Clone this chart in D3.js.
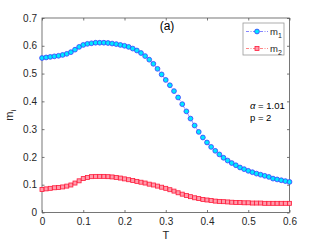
<!DOCTYPE html>
<html>
<head>
<meta charset="utf-8">
<script src="https://cdn.jsdelivr.net/npm/d3@7"></script>
<style>
  body { margin: 0; background: #fff; }
  svg { display: block; font-family: "Liberation Sans", Arial, sans-serif; }
</style>
</head>
<body>
<svg id="chart" width="321" height="241"></svg>
<script>
// temperatures, step 0.01
const temps = d3.range(0, 61).map(i => i / 100);

const m1 = [
  0.556, 0.558, 0.560, 0.562, 0.564, 0.567, 0.571, 0.577, 0.586, 0.596,
  0.603, 0.607, 0.609, 0.611, 0.611, 0.611, 0.610, 0.608, 0.606, 0.603,
  0.600, 0.596, 0.590, 0.583, 0.574, 0.563, 0.550, 0.535, 0.517, 0.497,
  0.477, 0.458, 0.437, 0.414, 0.390, 0.364, 0.338, 0.313, 0.290, 0.270,
  0.252, 0.236, 0.222, 0.209, 0.197, 0.187, 0.178, 0.170, 0.162, 0.156,
  0.150, 0.145, 0.140, 0.136, 0.132, 0.128, 0.122, 0.119, 0.116, 0.113,
  0.110
];

const m2 = [
  0.083, 0.085, 0.087, 0.089, 0.090, 0.092, 0.095, 0.099, 0.106, 0.114,
  0.122, 0.126, 0.129, 0.130, 0.130, 0.130, 0.129, 0.128, 0.126, 0.124,
  0.121, 0.118, 0.115, 0.112, 0.109, 0.106, 0.102, 0.099, 0.095, 0.091,
  0.087, 0.082, 0.077, 0.071, 0.066, 0.061, 0.057, 0.053, 0.050, 0.047,
  0.045, 0.043, 0.041, 0.040, 0.039, 0.038, 0.037, 0.036, 0.036, 0.035,
  0.035, 0.034, 0.034, 0.034, 0.033, 0.033, 0.033, 0.033, 0.033, 0.033,
  0.033
];

const xTicks = [0, 0.1, 0.2, 0.3, 0.4, 0.5, 0.6];
const yTicks = [0, 0.1, 0.2, 0.3, 0.4, 0.5, 0.6, 0.7];
const seriesNames = ["m1", "m2"];

const svg = d3.select("#chart");
const pLeft = 42, pRight = 289.5, pTop = 18, pBottom = 212.5;
const axisColor = "#555";
const textColor = "#262626";

const x = d3.scaleLinear().domain([0, 0.6]).range([pLeft, pRight]);
const y = d3.scaleLinear().domain([0, 0.7]).range([pBottom, pTop]);

// box
svg.append("rect")
  .attr("x", pLeft).attr("y", pTop)
  .attr("width", pRight - pLeft).attr("height", pBottom - pTop)
  .attr("fill", "none").attr("stroke", axisColor).attr("stroke-width", 0.8);

const tl = 2.5;
// axes with inward ticks
svg.append("g").attr("transform", `translate(0,${pBottom})`)
  .call(d3.axisBottom(x).tickValues(xTicks).tickSize(-tl).tickPadding(5)
    .tickFormat(d => d === 0 ? "0" : d3.format(".1f")(d)))
  .call(g => g.select(".domain").remove());
svg.append("g").attr("transform", `translate(0,${pTop})`)
  .call(d3.axisTop(x).tickValues(xTicks).tickSize(-tl).tickFormat(""))
  .call(g => g.select(".domain").remove());
svg.append("g").attr("transform", `translate(${pLeft},0)`)
  .call(d3.axisLeft(y).tickValues(yTicks).tickSize(-tl).tickPadding(5)
    .tickFormat(d => d === 0 ? "0" : d3.format(".1f")(d)))
  .call(g => g.select(".domain").remove());
svg.append("g").attr("transform", `translate(${pRight},0)`)
  .call(d3.axisRight(y).tickValues(yTicks).tickSize(-tl).tickFormat(""))
  .call(g => g.select(".domain").remove());

svg.selectAll(".tick line").attr("stroke", axisColor).attr("stroke-width", 0.8);
svg.selectAll(".tick text")
  .attr("fill", textColor)
  .style("font-size", "10px")
  .style("font-family", "Liberation Sans, Arial, sans-serif");

// axis labels
svg.append("text").attr("x", (pLeft + pRight) / 2).attr("y", 239)
  .attr("text-anchor", "middle").attr("fill", textColor)
  .style("font-size", "11px").text("T");
const yl = svg.append("text")
  .attr("transform", `translate(13,${(pTop + pBottom) / 2}) rotate(-90)`)
  .attr("text-anchor", "middle").attr("fill", textColor)
  .style("font-size", "11px");
yl.append("tspan").text("m");
yl.append("tspan").attr("dy", 3).style("font-size", "8px").text("i");

// lines
const line = d3.line().x((d, i) => x(temps[i])).y(d => y(d));
svg.append("path").datum(m1).attr("d", line)
  .attr("fill", "none").attr("stroke", "#3333ff").attr("stroke-width", 0.6)
  .attr("stroke-dasharray", "4,2,1,2");
svg.append("path").datum(m2).attr("d", line)
  .attr("fill", "none").attr("stroke", "#ff3333").attr("stroke-width", 0.6)
  .attr("stroke-dasharray", "4,2,1,2");

// markers
svg.append("g").selectAll("circle").data(m1).join("circle")
  .attr("cx", (d, i) => x(temps[i])).attr("cy", d => y(d)).attr("r", 2.4)
  .attr("fill", "#00e8ff").attr("stroke", "#3a3aff").attr("stroke-width", 0.8);
svg.append("g").selectAll("rect").data(m2).join("rect")
  .attr("x", (d, i) => x(temps[i]) - 2).attr("y", d => y(d) - 2)
  .attr("width", 4).attr("height", 4)
  .attr("fill", "#ff9aaa").attr("stroke", "#ff1a3a").attr("stroke-width", 0.8);

// panel label and parameters
svg.append("text").attr("x", 167).attr("y", 30).attr("text-anchor", "middle")
  .attr("fill", "#000").style("font-size", "12px").text("(a)");
const p1 = svg.append("text").attr("x", 250).attr("y", 109)
  .attr("fill", "#000").style("font-size", "9.5px");
p1.append("tspan").style("font-style", "italic").text("α");
p1.append("tspan").text(" = 1.01");
svg.append("text").attr("x", 250).attr("y", 121)
  .attr("fill", "#000").style("font-size", "9.5px").text("p = 2");

// legend
const lg = svg.append("g");
lg.append("rect").attr("x", 243).attr("y", 23).attr("width", 41).attr("height", 32)
  .attr("fill", "#fff").attr("stroke", "#999").attr("stroke-width", 0.8);
seriesNames.forEach((name, k) => {
  const ly = 31.5 + k * 17;
  lg.append("line").attr("x1", 246).attr("x2", 268).attr("y1", ly).attr("y2", ly)
    .attr("stroke", k === 0 ? "#3333ff" : "#ff3333").attr("stroke-width", 0.6)
    .attr("stroke-dasharray", "3,1.5,1,1.5");
  if (k === 0) {
    lg.append("circle").attr("cx", 257).attr("cy", ly).attr("r", 2.4)
      .attr("fill", "#00e8ff").attr("stroke", "#3a3aff").attr("stroke-width", 0.8);
  } else {
    lg.append("rect").attr("x", 255).attr("y", ly - 2).attr("width", 4).attr("height", 4)
      .attr("fill", "#ff9aaa").attr("stroke", "#ff1a3a").attr("stroke-width", 0.8);
  }
  const t = lg.append("text").attr("x", 270).attr("y", ly + 3)
    .attr("fill", textColor).style("font-size", "9.5px");
  t.append("tspan").text(name[0]);
  t.append("tspan").attr("dy", 3).style("font-size", "7px").text(name.slice(1));
});
</script>
</body>
</html>
